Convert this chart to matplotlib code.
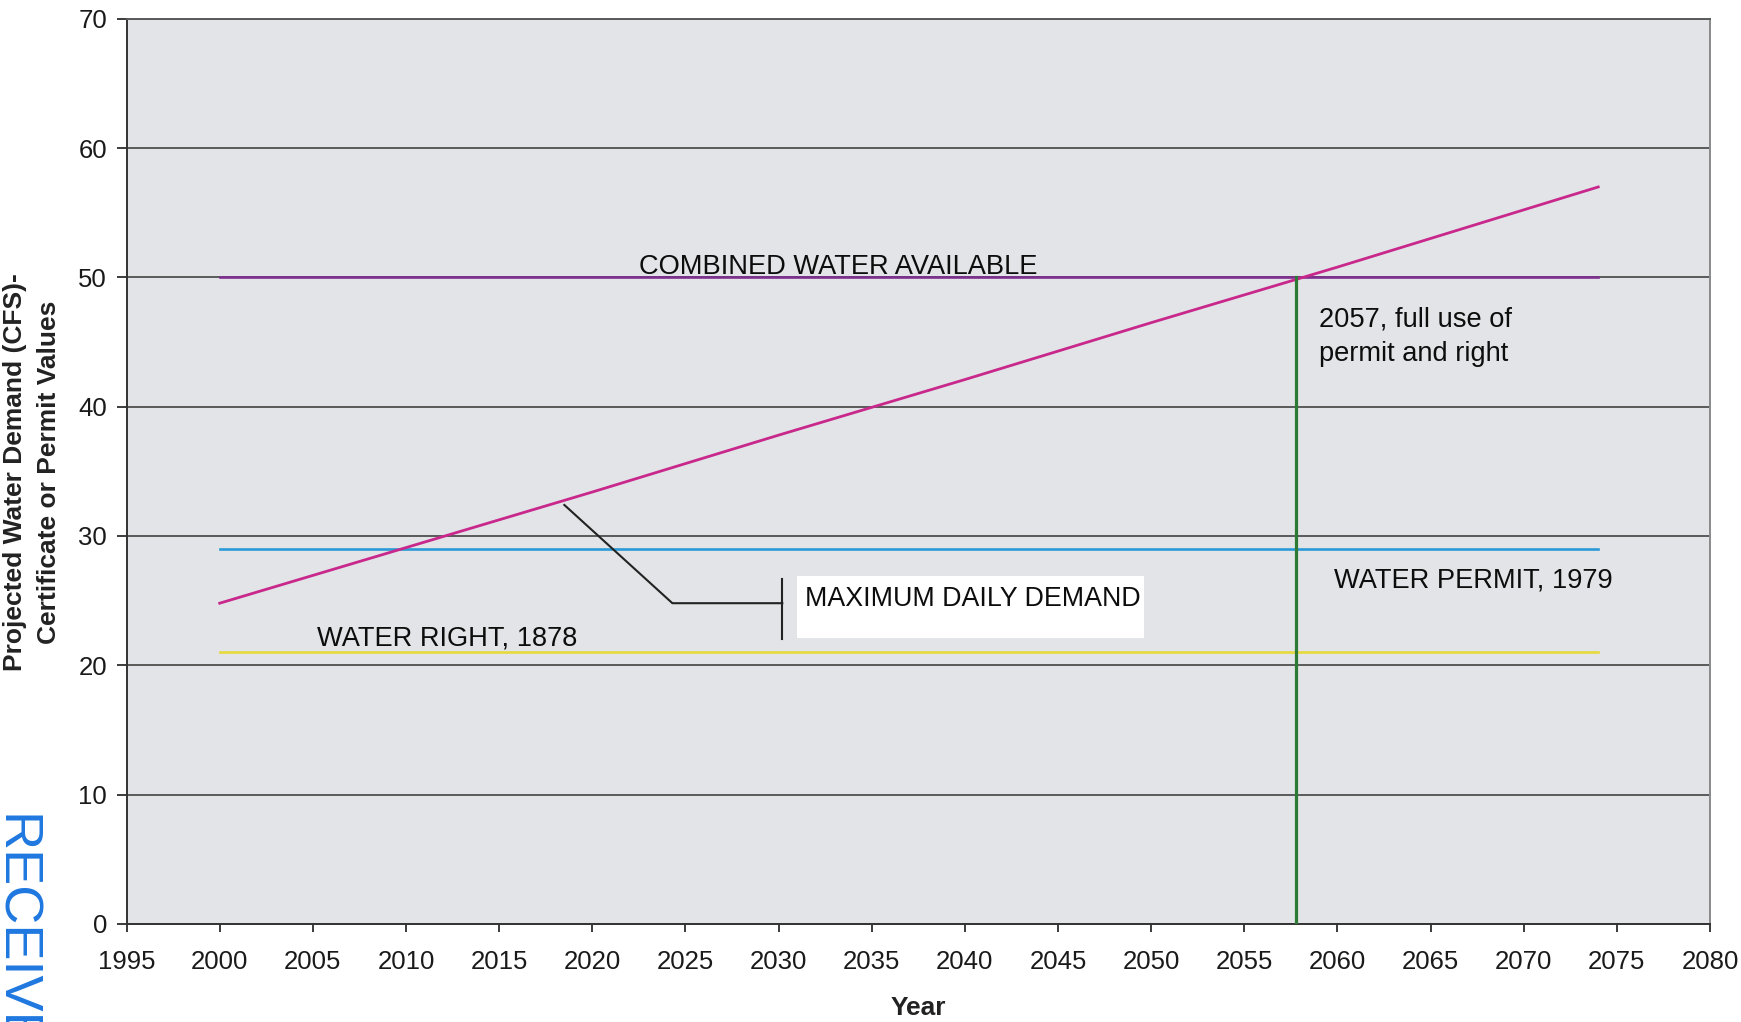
import matplotlib
matplotlib.use("Agg")
import matplotlib.pyplot as plt
from matplotlib.patches import Rectangle

plt.rcParams['font.family'] = ['Liberation Sans', 'DejaVu Sans']

# ---- data ----
demand_years = [2000, 2010, 2020, 2030, 2040, 2050, 2060, 2074]
demand_values = [24.8, 29.1, 33.4, 37.8, 42.1, 46.5, 50.8, 57.0]

flat_years = [2000, 2074]
combined_values = [50.0, 50.0]
permit_values = [29.0, 29.0]
right_values = [21.0, 21.0]

full_use_year = 2057.8
full_use_range = [0, 50]

x_ticks = list(range(1995, 2081, 5))
y_ticks = list(range(0, 71, 10))

# ---- figure ----
fig = plt.figure(figsize=(17.41, 10.22), dpi=100)
ax = fig.add_axes([0.0727, 0.0961, 0.9822 - 0.0727, 0.9815 - 0.0961])
ax.set_facecolor('#e3e4e7')

ax.set_xlim(1995, 2080)
ax.set_ylim(0, 70)
ax.set_xticks(x_ticks)
ax.set_yticks(y_ticks)
ax.tick_params(axis='x', length=6, width=1.2, pad=13, labelsize=18.5, colors='#1a1a1a')
ax.tick_params(axis='y', length=7, width=1.2, pad=7, labelsize=18.5, colors='#1a1a1a')

ax.yaxis.grid(True, color='#5a5a5a', linewidth=1.4, zorder=1)
ax.set_axisbelow(True)
for s in ['left', 'bottom']:
    ax.spines[s].set_color('#333333')
    ax.spines[s].set_linewidth(1.4)
ax.spines['top'].set_color('#5a5a5a')
ax.spines['top'].set_linewidth(1.4)
ax.spines['right'].set_color('#8a8a8a')
ax.spines['right'].set_linewidth(1.4)

# series
ax.plot(flat_years, combined_values, color='#7e2f90', linewidth=1.9, zorder=3)
ax.plot(flat_years, permit_values, color='#2a9ad6', linewidth=1.9, zorder=3)
ax.plot(flat_years, right_values, color='#e6da3c', linewidth=1.9, zorder=3)
ax.plot(demand_years, demand_values, color='#c8288c', linewidth=2.0, zorder=4)
ax.plot([full_use_year, full_use_year], full_use_range, color='#2d7a35', linewidth=2.3, zorder=5)

# labels
lab_fs = 19.6
ax.text(2022.5, 50.3, 'COMBINED WATER AVAILABLE', fontsize=lab_fs, va='baseline', ha='left',
        color='#0d0d0d', zorder=6)
ax.text(2059.0, 47.75, '2057, full use of\npermit and right', fontsize=lab_fs, va='top', ha='left',
        color='#0d0d0d', linespacing=1.42, zorder=6)
ax.text(2059.8, 26.55, 'WATER PERMIT, 1979', fontsize=lab_fs, va='center', ha='left',
        color='#0d0d0d', zorder=6)
ax.text(2005.2, 22.05, 'WATER RIGHT, 1878', fontsize=lab_fs, va='center', ha='left',
        color='#0d0d0d', zorder=6)

# callout
ax.add_patch(Rectangle((2031.0, 22.1), 18.6, 4.8, facecolor='white', edgecolor='none', zorder=5))
ax.plot([2018.5, 2024.3, 2030.2], [32.4, 24.8, 24.8], color='#222222', linewidth=1.5, zorder=5)
ax.plot([2030.2, 2030.2], [26.7, 22.0], color='#222222', linewidth=1.5, zorder=5)
ax.text(2031.4, 25.1, 'MAXIMUM DAILY DEMAND', fontsize=19.3, va='center', ha='left',
        color='#0d0d0d', zorder=6)

# axis labels
ax.set_xlabel('Year', fontsize=19, fontweight='bold', color='#222222', labelpad=16)
fig.text(32 / 1741, 1 - 472 / 1022, 'Projected Water Demand (CFS)-\nCertificate or Permit Values',
         rotation=90, fontsize=19, fontweight='bold', ha='center', va='center',
         color='#222222', linespacing=1.5)

# stamp
fig.text(14 / 1741, 1 - 814 / 1022, 'RECEIVE', rotation=-90, fontsize=39, color='#1f78e0',
         family=['Liberation Sans Narrow', 'Liberation Sans'], ha='center', va='top')

fig.savefig('out.png', dpi=100)
